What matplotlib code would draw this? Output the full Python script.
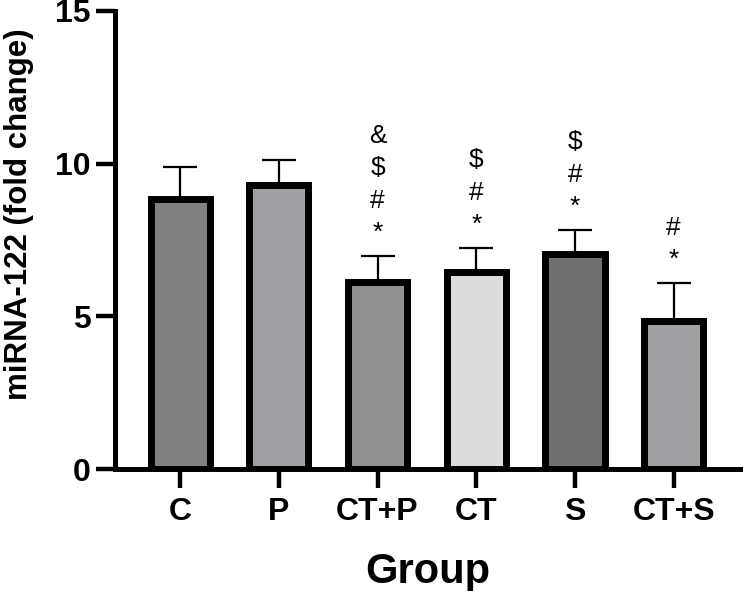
import numpy as np
import matplotlib
matplotlib.use('Agg')
import matplotlib.pyplot as plt

plt.rcParams['font.family'] = ['Liberation Sans', 'DejaVu Sans']

# dados
grupos = ['C', 'P', 'CT+P', 'CT', 'S', 'CT+S']
media = [8.85, 9.30, 6.14, 6.44, 7.04, 4.85]
erro = [1.03, 0.81, 0.84, 0.80, 0.79, 1.23]
cores = ['#808080', '#a0a0a4', '#909090', '#dcdcdc', '#707070', '#a0a0a4']
simbolos = [[], [], ['&', '$', '#', '*'], ['$', '#', '*'], ['$', '#', '*'], ['#', '*']]

fig = plt.figure(figsize=(7.43, 5.91), dpi=100)
ax = fig.add_axes([0.1548, 0.2064, 0.8422, 0.775])

x = np.arange(len(grupos))
ax.errorbar(x, media, yerr=[np.zeros(len(erro)), erro], fmt='none',
            ecolor='black', elinewidth=1.6, capsize=12, capthick=1.6, zorder=1)
ax.bar(x, media, width=0.6, color=cores, edgecolor='black', linewidth=5, zorder=2)

for xi, m, e, s in zip(x, media, erro, simbolos):
    if s:
        ax.annotate('\n'.join(s), xy=(xi, m + e), xytext=(0, 8),
                    textcoords='offset points', ha='center', va='bottom',
                    fontsize=19, linespacing=1.43)

ax.set_xlim(-0.66, 5.68)
ax.set_ylim(0, 15)
ax.set_yticks([0, 5, 10, 15])
ax.set_xticks(x)
ax.set_xticklabels(grupos)

for lado in ['top', 'right']:
    ax.spines[lado].set_visible(False)
for lado in ['left', 'bottom']:
    ax.spines[lado].set_linewidth(3.6)

ax.tick_params(axis='both', width=3.2, length=13.5, labelsize=23)
ax.tick_params(axis='x', pad=7)
ax.tick_params(axis='y', pad=4)
for rot in ax.get_xticklabels() + ax.get_yticklabels():
    rot.set_fontweight('bold')

ax.set_xlabel('Group', fontsize=30, fontweight='bold', labelpad=18)
ax.set_ylabel('miRNA-122 (fold change)', fontsize=22.5, fontweight='bold')
ax.yaxis.set_label_coords(-0.13, 0.557)

fig.savefig('out.png', dpi=100)
